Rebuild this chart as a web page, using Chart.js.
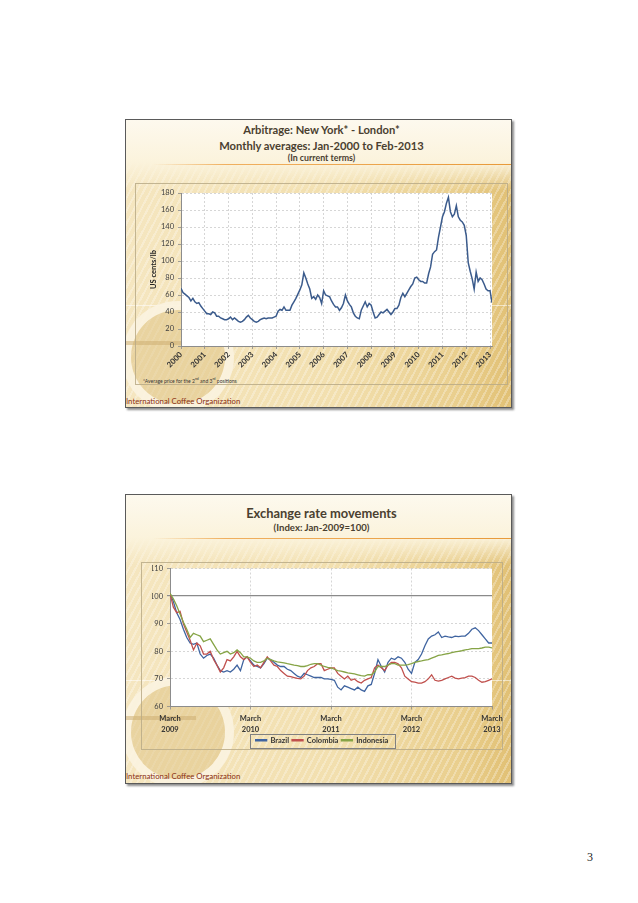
<!DOCTYPE html>
<html>
<head>
<meta charset="utf-8">
<script src="https://cdn.jsdelivr.net/npm/chart.js@4.4.1/dist/chart.umd.min.js"></script>
<style>
body{margin:0;width:638px;height:903px;background:#fff;position:relative;overflow:hidden;font-family:Lato,"Open Sans",sans-serif;}
.slide{position:absolute;left:125px;width:385px;border:1px solid #5a5a5a;box-shadow:2px 2px 2px rgba(0,0,0,.45);overflow:hidden;
  background:linear-gradient(90deg,#F5E6C0 0%,#F2DFAE 55%,#E9CE8C 88%,#E1C074 100%);}
.stripes{position:absolute;left:0;top:0;right:0;bottom:0;
  background:repeating-linear-gradient(118deg,rgba(255,255,255,.28) 0 2px,rgba(255,255,255,0) 2px 6px);}
.topfade{position:absolute;left:0;top:0;right:0;height:70px;background:linear-gradient(180deg,#FDF9EE 0%,#FBF3DC 60%,rgba(251,243,220,0) 100%);}
.ring{position:absolute;left:-4px;top:181px;width:112px;height:112px;box-sizing:border-box;border-radius:50%;
  border:9px solid rgba(255,250,236,.8);background:rgba(222,194,130,.5);}
.bar{position:absolute;left:0;top:221px;width:70px;height:4px;background:rgba(205,175,115,.55);}
.hline{position:absolute;left:0;top:185px;right:0;height:1px;background:rgba(255,255,255,.55);}
.rule{position:absolute;left:27px;right:0;height:1px;background:linear-gradient(90deg,rgba(240,170,80,0) 0%,#F0B060 20%,#E89A3A 100%);}
.t{position:absolute;left:3px;width:100%;text-align:center;font-weight:bold;color:#4a4030;white-space:nowrap;}
.box{position:absolute;border:1px solid rgba(185,170,135,.85);box-sizing:border-box;}
.ico{position:absolute;left:0;top:275px;font-size:7.8px;line-height:12px;color:#8a2e12;}
.note{position:absolute;left:17px;top:257px;font-size:5px;color:#333;}
.note sup{font-size:3.5px;}
canvas{position:absolute;}
.pg{position:absolute;left:587px;top:850px;font:12px "Liberation Serif","DejaVu Serif",serif;color:#222;}
</style>
</head>
<body>

<div class="slide" style="top:119px;height:287px;">
  <div class="stripes"></div>
  <div class="topfade"></div>
  <div class="hline"></div>
  <div class="ring"></div>
  <div class="bar"></div>
  <div class="t" style="top:3px;font-size:11.2px;line-height:14px;">Arbitrage: New York* - London*</div>
  <div class="t" style="top:19px;font-size:11.2px;line-height:14px;">Monthly averages: Jan-2000 to Feb-2013</div>
  <div class="t" style="top:33px;font-size:8.8px;line-height:10px;">(In current terms)</div>
  <div class="rule" style="top:44px;"></div>
  <div class="box" style="left:9px;top:63px;width:373px;height:202px;"></div>
  <div class="note">*Average price for the 2<sup>nd</sup> and 3<sup>rd</sup> positions</div>
  <div class="ico">International Coffee Organization</div>
</div>

<div class="slide" style="top:494px;height:288px;">
  <div class="stripes"></div>
  <div class="topfade"></div>
  <div class="hline"></div>
  <div class="ring"></div>
  <div class="bar"></div>
  <div class="t" style="top:10px;font-size:12.9px;line-height:16px;">Exchange rate movements</div>
  <div class="t" style="top:27px;font-size:9.6px;line-height:12px;">(Index: Jan-2009=100)</div>
  <div class="rule" style="top:43px;"></div>
  <div class="box" style="left:15px;top:67px;width:362px;height:188px;"></div>
  <div class="ico">International Coffee Organization</div>
</div>

<canvas id="arbChart" width="373" height="202" style="left:135px;top:183px;"></canvas>
<canvas id="fxChart" width="375" height="194" style="left:135px;top:560px;"></canvas>

<div class="pg">3</div>

<script>
// arbitrage, monthly Jan-2000 .. Feb-2013 (US cents/lb)
var years = [2000, 2001, 2002, 2003, 2004, 2005, 2006, 2007, 2008, 2009, 2010, 2011, 2012, 2013];
var arbTicks = [0, 20, 40, 60, 80, 100, 120, 140, 160, 180];
var arbitrage = [
  68, 63, 61, 59, 57, 53, 56, 52, 50, 51, 47, 44,
  41, 38, 38, 37, 40, 39, 35, 35, 33, 32, 31, 31,
  32, 34, 31, 33, 31, 29, 28, 29, 31, 34, 36, 33,
  31, 29, 28, 29, 31, 32, 33, 32, 33, 33, 33, 34,
  35, 41, 43, 42, 46, 42, 42, 42, 48, 52, 56, 61,
  66, 72, 86, 80, 73, 67, 56, 58, 55, 60, 57, 50,
  65, 60, 59, 58, 53, 49, 46, 46, 42, 45, 50, 60,
  53, 49, 46, 39, 35, 33, 32, 42, 47, 52, 46, 50,
  48, 40, 33, 34, 37, 40, 39, 41, 43, 40, 37, 40,
  44, 44, 48, 57, 62, 58, 62, 66, 70, 73, 80, 81,
  78, 76, 76, 74, 74, 85, 93, 108, 111, 113, 128, 140,
  152, 158, 168, 175, 158, 152, 155, 165, 152, 148, 146, 142,
  130, 98, 88, 79, 67, 87, 76, 80, 78, 73, 67, 65,
  65, 51
];

// exchange rate index, twice a month Mar-2009 .. Mar-2013
var fxTickLabels = [["March", "2009"], ["March", "2010"], ["March", "2011"], ["March", "2012"], ["March", "2013"]];
var fxTicks = [60, 70, 80, 90, 100, 110];
var brazil = [
  101, 98, 94, 91.5, 88, 85, 83, 82.5, 83, 79, 77.5, 78.5, 79, 77.5, 75, 73,
  72.5, 73, 72.5, 73.5, 75, 73, 77, 78, 76.5, 75, 74.5, 74, 75.5, 77.5, 77, 76,
  75, 74.5, 74.5, 73.5, 73, 72, 71, 70.5, 72, 71.5, 71, 70.5, 70.5, 70.5, 70, 70,
  69.8, 69.5, 67, 66, 67.5, 67, 66.5, 66, 67, 66, 65.5, 67.5, 68, 72, 77, 74.5,
  72.5, 76, 77.5, 77, 78, 77.5, 76, 73.5, 72, 76, 77, 79, 82, 84.5, 85.5, 86,
  87, 85, 85.5, 85.2, 85, 85.5, 85.3, 85.5, 85.5, 86.5, 88, 88.5, 87.5, 86, 84.5, 83,
  83
];
var colombia = [
  101, 96, 94, 94.5, 90, 87, 84, 80.5, 83, 82, 79, 79, 80, 77, 75, 72.5,
  74, 77, 76.5, 78, 80, 78, 77, 78, 76, 74.5, 75, 74, 76, 78, 76.5, 75,
  74.5, 73, 72, 71, 70.8, 70.5, 70.2, 70, 71, 73, 74, 74.5, 75.5, 75.5, 73, 73.5,
  74, 74, 72, 71, 70, 71, 69.5, 70, 69, 68.5, 69.5, 70, 70.5, 74, 75, 74,
  73, 75, 76, 76, 75.5, 74, 71, 70, 69, 68.8, 68.5, 68.5, 69, 70, 71.5, 69.5,
  69.2, 69.5, 70, 70.5, 71, 70.3, 70, 70.3, 70.5, 71, 71, 70.5, 69.5, 68.8, 69, 69.5,
  70
];
var indonesia = [
  101, 99, 96.5, 93.5, 90.5, 88, 85, 86.5, 86, 85.5, 83.5, 84, 84.5, 82.5, 80.5, 79,
  79.5, 80, 79, 79.5, 80.5, 79.5, 78, 78, 77.5, 76.5, 76, 76, 76.5, 77.5, 77, 76.5,
  76.2, 76, 75.8, 75.5, 75.3, 75, 74.8, 74.5, 74.5, 74.8, 75.3, 75.5, 75.5, 75, 74.5, 74.2,
  74, 73.5, 73, 72.8, 72.5, 72.2, 72, 71.8, 71.5, 71.2, 71, 71.5, 71.5, 72.5, 74.5, 74.5,
  74.5, 75, 75.5, 75.5, 75, 75, 75, 75.2, 75.5, 76, 76.3, 76.5, 76.8, 77, 77.5, 78,
  78.5, 78.7, 79, 79.2, 79.5, 79.8, 80, 80.2, 80.5, 80.7, 81, 81, 81, 81.2, 81.5, 81.5,
  81.2
];

var FONT = 'Lato, "Open Sans", sans-serif';

var plotBg = {
  id: 'plotBg',
  beforeDraw: function (chart) {
    var a = chart.chartArea, c = chart.ctx;
    c.save();
    c.fillStyle = '#ffffff';
    c.fillRect(a.left, a.top, a.right - a.left, a.bottom - a.top);
    c.restore();
  }
};

var legendBox = {
  id: 'legendBox',
  afterDraw: function (chart) {
    var hb = chart.legend && chart.legend.legendHitBoxes;
    if (!hb || !hb.length) return;
    var l = 1e9, r = -1e9, t = 1e9, b = -1e9;
    hb.forEach(function (h) {
      l = Math.min(l, h.left); r = Math.max(r, h.left + h.width);
      t = Math.min(t, h.top); b = Math.max(b, h.top + h.height);
    });
    var c = chart.ctx;
    c.save();
    c.strokeStyle = '#808080';
    c.lineWidth = 1;
    c.strokeRect(Math.round(l - 6) + 0.5, Math.round(t - 3) + 0.5, Math.round(r - l + 12), Math.round(b - t + 6));
    c.restore();
  }
};

function toPoints(arr, step) {
  return arr.map(function (v, i) { return { x: i * step, y: v }; });
}

// top chart
new Chart(document.getElementById('arbChart'), {
  type: 'line',
  data: {
    datasets: [{
      data: arbitrage.map(function (v, i) { return { x: years[0] + i / 12, y: v }; }),
      borderColor: '#3b5b8c',
      borderWidth: 1.5,
      pointRadius: 0,
      tension: 0
    }]
  },
  options: {
    responsive: false,
    animation: false,
    layout: { padding: { left: 0, right: 16, top: 10, bottom: 0 } },
    plugins: { legend: { display: false }, tooltip: { enabled: false } },
    scales: {
      x: {
        type: 'linear',
        min: years[0],
        max: years[0] + (arbitrage.length - 1) / 12,
        afterBuildTicks: function (s) { s.ticks = years.map(function (v) { return { value: v }; }); },
        afterFit: function (s) { s.height = 39; },
        ticks: {
          autoSkip: false, minRotation: 45, maxRotation: 45, padding: 1,
          color: '#333', font: { family: FONT, size: 7.8, weight: 'bold' },
          callback: function (v) { return String(v); }
        },
        grid: { color: '#cccccc', lineWidth: 0.8, tickLength: 3, tickColor: '#8c8c8c' },
        border: { color: '#8c8c8c', width: 1, dash: [2, 2] }
      },
      y: {
        min: 0, max: 180,
        afterBuildTicks: function (s) { s.ticks = arbTicks.map(function (v) { return { value: v }; }); },
        afterFit: function (s) { s.width = 46; },
        ticks: { padding: 4, color: '#404040', font: { family: FONT, size: 7.5 } },
        grid: { color: '#cccccc', lineWidth: 0.8, tickLength: 3, tickColor: '#8c8c8c' },
        border: { color: '#8c8c8c', width: 1, dash: [2, 2] },
        title: {
          display: true, text: 'US cents/lb', color: '#222',
          font: { family: FONT, size: 7.5, weight: 'bold' }, padding: { top: 14, bottom: 0 }
        }
      }
    }
  },
  plugins: [plotBg]
});

// bottom chart
new Chart(document.getElementById('fxChart'), {
  type: 'line',
  data: {
    datasets: [
      { label: 'Brazil', data: toPoints(brazil, 0.5), borderColor: '#3f64a0', backgroundColor: '#3f64a0', order: 2 },
      { label: 'Colombia', data: toPoints(colombia, 0.5), borderColor: '#c0504d', backgroundColor: '#c0504d', order: 1 },
      { label: 'Indonesia', data: toPoints(indonesia, 0.5), borderColor: '#86a446', backgroundColor: '#86a446', order: 0 }
    ]
  },
  options: {
    responsive: false,
    animation: false,
    elements: { line: { borderWidth: 1.3, tension: 0 }, point: { radius: 0 } },
    layout: { padding: { left: 17, right: 18, top: 8, bottom: 0 } },
    plugins: {
      tooltip: { enabled: false },
      legend: {
        position: 'bottom',
        labels: {
          boxWidth: 11, boxHeight: 1, padding: 3, color: '#333',
          font: { family: FONT, size: 7.5, weight: 'bold' },
          sort: function (a, b) { return a.datasetIndex - b.datasetIndex; }
        }
      }
    },
    scales: {
      x: {
        type: 'linear', min: 0, max: 48,
        afterBuildTicks: function (s) { s.ticks = fxTickLabels.map(function (t, i) { return { value: i * 12 }; }); },
        afterFit: function (s) { s.height = 27; },
        ticks: {
          autoSkip: false, maxRotation: 0, padding: 4, color: '#333',
          font: { family: FONT, size: 7.5, weight: 'bold', lineHeight: 1.45 },
          callback: function (v, i) { return fxTickLabels[i]; }
        },
        grid: {
          color: function (c) { return (c.index === 0 || c.index === fxTickLabels.length - 1) ? 'rgba(0,0,0,0)' : '#cccccc'; },
          lineWidth: 0.8, tickLength: 3, tickColor: '#8c8c8c'
        },
        border: { color: '#8c8c8c', width: 1, dash: [2, 2] }
      },
      y: {
        min: 60, max: 110,
        afterBuildTicks: function (s) { s.ticks = fxTicks.map(function (v) { return { value: v }; }); },
        afterFit: function (s) { s.width = 18; },
        ticks: { padding: 4, color: '#404040', font: { family: FONT, size: 7.5 } },
        grid: {
          color: function (c) { return c.tick && c.tick.value === 100 ? '#8a8a8a' : '#cccccc'; },
          lineWidth: function (c) { return c.tick && c.tick.value === 100 ? 1.2 : 0.8; },
          tickLength: 3, tickColor: '#8c8c8c'
        },
        border: {
          color: '#8c8c8c', width: 1,
          dash: function (c) { return c.tick && c.tick.value === 100 ? [] : [2, 2]; }
        }
      }
    }
  },
  plugins: [plotBg, legendBox]
});
</script>
</body>
</html>
